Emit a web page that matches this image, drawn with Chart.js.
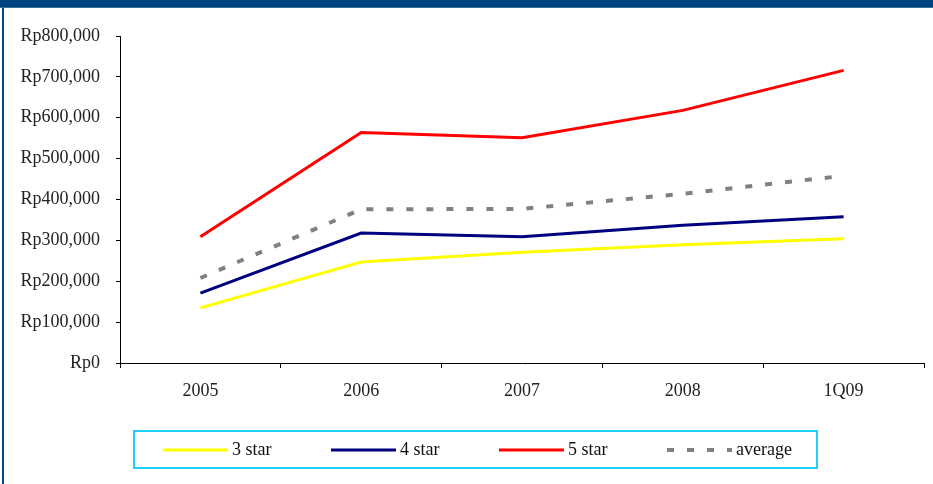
<!DOCTYPE html>
<html>
<head>
<meta charset="utf-8">
<script src="https://cdn.jsdelivr.net/npm/chart.js@4"></script>
<style>
  html, body { margin: 0; padding: 0; background: #fff; }
  #wrap { position: relative; width: 933px; height: 484px; overflow: hidden; }
  #topband { position: absolute; left: 0; top: 0; width: 933px; height: 7px; background: #00457f; border-bottom: 1px solid #3a6f9c; }
  #leftband { position: absolute; left: 2px; top: 8px; width: 2px; height: 476px; background: #00457f; }
  #salesChart { position: absolute; left: 0; top: 0; }
  #legend {
    position: absolute; left: 133px; top: 430px; width: 681px; height: 35px;
    border: 2px solid #1fd0ff; display: flex; align-items: center;
    font-family: "Liberation Serif", serif; font-size: 18px; color: #111;
    box-sizing: content-box; overflow: hidden;
  }
  .item { display: flex; align-items: center; width: 168px; flex-shrink: 0; }
  .item:first-child { margin-left: 28px; }
  .item svg { margin-right: 4px; }
</style>
</head>
<body>
<div id="wrap">
  <canvas id="salesChart" width="933" height="484"></canvas>
  <div id="topband"></div>
  <div id="leftband"></div>
  <div id="legend"></div>
</div>
<script>
// Categorias e valores (Rupiah)
const periods = ['2005', '2006', '2007', '2008', '1Q09'];
const star3 = [135000, 247000, 271000, 289000, 304000];
const star4 = [171000, 318000, 309000, 337000, 358000];
const star5 = [309000, 564000, 551000, 618000, 716000];
const average = [208000, 376000, 377000, 414000, 458000];
const yTicks = [0, 100000, 200000, 300000, 400000, 500000, 600000, 700000, 800000];

const tickFont = { family: 'Liberation Serif', size: 18 };

function rupiah(v) {
    return 'Rp' + v.toLocaleString('en-US');
}

const datasets = [
    { label: '3 star', data: star3, borderColor: '#ffff00', borderWidth: 3 },
    { label: '4 star', data: star4, borderColor: '#000080', borderWidth: 3 },
    { label: '5 star', data: star5, borderColor: '#ff0000', borderWidth: 3 },
    { label: 'average', data: average, borderColor: '#808080', borderWidth: 4, borderDash: [7, 13] }
];
datasets.forEach(d => { d.pointRadius = 0; d.tension = 0; d.fill = false; d.borderCapStyle = 'butt'; });

const ctx = document.getElementById('salesChart');
const chart = new Chart(ctx.getContext('2d'), {
    type: 'line',
    data: { labels: periods, datasets: datasets },
    options: {
        responsive: false,
        animation: false,
        layout: { padding: { top: 36, right: 9, left: 0, bottom: 0 } },
        plugins: { legend: { display: false }, tooltip: { enabled: false } },
        scales: {
            x: {
                offset: true,
                grid: { drawOnChartArea: false, drawTicks: true, tickLength: 5, color: '#000', offset: true },
                border: { display: true, color: '#000', width: 1 },
                ticks: { color: '#222', font: tickFont, padding: 12, maxRotation: 0 },
                afterFit: s => { s.height = 121; }
            },
            y: {
                min: 0, max: 800000,
                afterBuildTicks: s => { s.ticks = yTicks.map(v => ({ value: v })); },
                grid: { drawOnChartArea: false, drawTicks: true, tickLength: 4, color: '#000' },
                border: { display: true, color: '#000', width: 1 },
                ticks: { color: '#222', font: tickFont, padding: 16, callback: v => rupiah(v) },
                afterFit: s => { s.width = 120; }
            }
        }
    }
});

// Legenda em HTML a partir dos datasets
const legendEl = document.getElementById('legend');
chart.data.datasets.forEach(d => {
    const item = document.createElement('div');
    item.className = 'item';
    const dash = d.borderDash ? d.borderDash.join(' ') : 'none';
    item.innerHTML = '<svg width="65" height="6"><line x1="0" y1="3" x2="65" y2="3" stroke="' + d.borderColor +
        '" stroke-width="' + d.borderWidth + '" stroke-dasharray="' + dash + '"/></svg><span>' + d.label + '</span>';
    legendEl.appendChild(item);
});
</script>
</body>
</html>
